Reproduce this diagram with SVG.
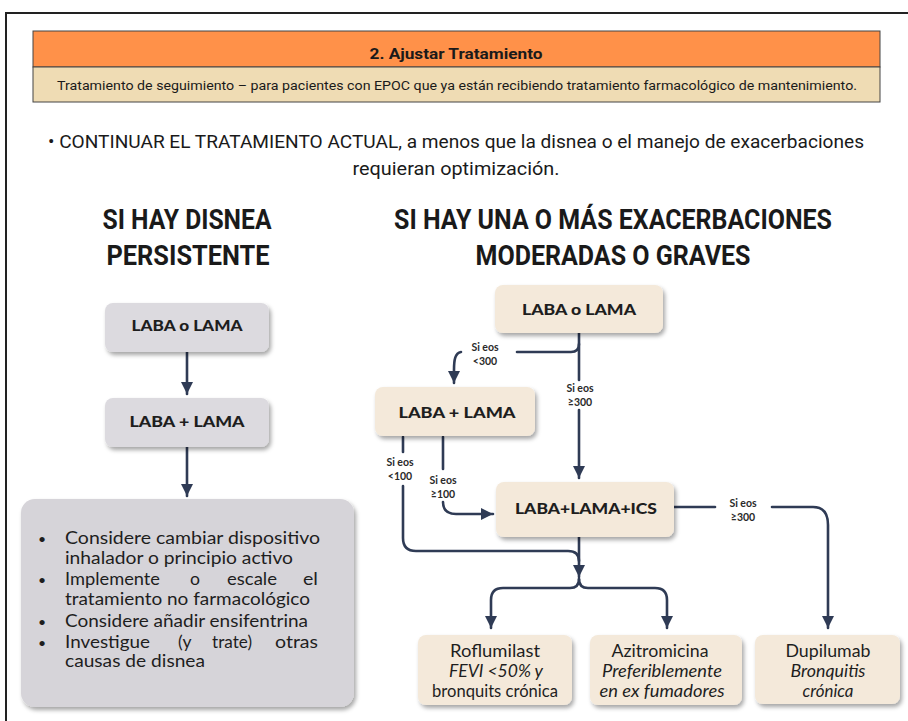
<svg xmlns="http://www.w3.org/2000/svg" width="908" height="721" viewBox="0 0 908 721">
<defs>
<filter id="sh" x="-10%" y="-10%" width="125%" height="130%">
<feDropShadow dx="2" dy="3" stdDeviation="2.2" flood-color="#000" flood-opacity="0.35"/>
</filter>
<marker id="ah" markerUnits="userSpaceOnUse" markerWidth="14" markerHeight="12" refX="12" refY="6" orient="auto">
<path d="M0,0 L12,6 L0,12 Z" fill="#2f3b55"/>
</marker>
</defs>
<style>
.cond{font-family:Roboto,"Liberation Sans",sans-serif;fill:#1a1a1a}
.hd{font-family:Roboto,"Liberation Sans",sans-serif;font-weight:bold;font-size:27px;fill:#1a1a1a;text-anchor:middle}
.bx{font-family:Lato,"Noto Sans",sans-serif;font-weight:900;font-size:15px;fill:#1e1e1e;text-anchor:middle}
.bt{font-family:Lato,"Noto Sans",sans-serif;font-size:17px;fill:#1e1e1e;text-anchor:middle}
.it{font-style:italic}
.li{font-family:Lato,"Noto Sans",sans-serif;font-size:17.5px;fill:#1e1e1e}
.lb{font-family:Lato,"Noto Sans",sans-serif;font-weight:bold;font-size:10.5px;fill:#2a2a2a;text-anchor:middle}
.grey{fill:#dcdadf}
.beige{fill:#f4e9da}
.cn{fill:none;stroke:#2f3b55;stroke-width:2.6;stroke-linecap:round}
</style>
<rect width="908" height="721" fill="#fff"/>
<path d="M6,721 V13 H908" fill="none" stroke="#222" stroke-width="2"/>

<g id="header">
<rect x="33" y="31" width="847" height="36" fill="#ff9149" stroke="#444" stroke-width="1"/>
<rect x="33" y="67" width="847" height="35" fill="#efdcb4" stroke="#444" stroke-width="1"/>
<text class="cond" x="456" y="59" font-size="14" font-weight="bold" text-anchor="middle" textLength="173" lengthAdjust="spacingAndGlyphs">2. Ajustar Tratamiento</text>
<text class="cond" x="457" y="90" font-size="12.5" text-anchor="middle" textLength="800" lengthAdjust="spacingAndGlyphs">Tratamiento de seguimiento – para pacientes con EPOC que ya están recibiendo tratamiento farmacológico de mantenimiento.</text>
</g>

<g id="intro">
<text class="cond" x="456" y="148" font-size="17.5" text-anchor="middle" textLength="816" lengthAdjust="spacingAndGlyphs">• CONTINUAR EL TRATAMIENTO ACTUAL, a menos que la disnea o el manejo de exacerbaciones</text>
<text class="cond" x="456" y="175" font-size="17.5" text-anchor="middle" textLength="207" lengthAdjust="spacingAndGlyphs">requieran optimización.</text>
</g>

<g id="headings">
<text class="hd" x="187" y="229" textLength="169" lengthAdjust="spacingAndGlyphs">SI HAY DISNEA</text>
<text class="hd" x="188" y="265" textLength="163" lengthAdjust="spacingAndGlyphs">PERSISTENTE</text>
<text class="hd" x="613" y="229" textLength="438" lengthAdjust="spacingAndGlyphs">SI HAY UNA O MÁS EXACERBACIONES</text>
<text class="hd" x="613" y="265" textLength="275" lengthAdjust="spacingAndGlyphs">MODERADAS O GRAVES</text>
</g>

<g id="connectors">
<path class="cn" d="M187,352 V394" marker-end="url(#ah)"/>
<path class="cn" d="M187,447 V496" marker-end="url(#ah)"/>
<path class="cn" d="M579,333 V380"/>
<path class="cn" d="M579,410 V478" marker-end="url(#ah)"/>
<path class="cn" d="M517,352 H571 Q579,352 579,344"/>
<path class="cn" d="M461,352 C455,353 454,360 454,370 V383" marker-end="url(#ah)"/>
<path class="cn" d="M403,437 V452"/>
<path class="cn" d="M403,486 V538 Q403,551 416,551 H568 Q579,551 579,561"/>
<path class="cn" d="M443,437 V469"/>
<path class="cn" d="M443,502 Q443,514 456,514 H493" marker-end="url(#ah)"/>
<path class="cn" d="M579,537 V577" marker-end="url(#ah)"/>
<path class="cn" d="M579,579 Q579,588 570,588 H503 Q491,588 491,600 V628" marker-end="url(#ah)"/>
<path class="cn" d="M579,579 Q579,588 588,588 H655 Q667,588 667,600 V628" marker-end="url(#ah)"/>
<path class="cn" d="M674,507 H715"/>
<path class="cn" d="M772,507 H813 Q828,507 828,525 V628" marker-end="url(#ah)"/>
<text class="lb" x="485" y="351">Si eos</text>
<text class="lb" x="485" y="365">&lt;300</text>
<text class="lb" x="580" y="392">Si eos</text>
<text class="lb" x="580" y="406">≥300</text>
<text class="lb" x="400" y="466">Si eos</text>
<text class="lb" x="400" y="480">&lt;100</text>
<text class="lb" x="443" y="484">Si eos</text>
<text class="lb" x="443" y="498">≥100</text>
<text class="lb" x="743" y="507">Si eos</text>
<text class="lb" x="743" y="521">≥300</text>
</g>

<g id="l-laba-o-lama">
<rect class="grey" x="105" y="303" width="164" height="49" rx="8" filter="url(#sh)"/>
<text class="bx" x="187" y="331" textLength="111" lengthAdjust="spacingAndGlyphs">LABA o LAMA</text>
</g>
<g id="l-laba-lama">
<rect class="grey" x="105" y="398" width="164" height="49" rx="8" filter="url(#sh)"/>
<text class="bx" x="187" y="427" textLength="115" lengthAdjust="spacingAndGlyphs">LABA + LAMA</text>
</g>
<g id="l-opciones">
<rect x="21" y="499" width="333" height="208" rx="14" fill="#d6d4d9" filter="url(#sh)"/>
<g class="li">
<text x="38" y="544" font-size="14">•</text>
<text x="65" y="544" textLength="255" lengthAdjust="spacingAndGlyphs">Considere cambiar dispositivo</text>
<text x="65" y="564" textLength="228" lengthAdjust="spacingAndGlyphs">inhalador o principio activo</text>
<text x="38" y="585" font-size="14">•</text>
<text x="65" y="585" textLength="95" lengthAdjust="spacingAndGlyphs">Implemente</text>
<text x="190" y="585" textLength="10" lengthAdjust="spacingAndGlyphs">o</text>
<text x="227" y="585" textLength="50" lengthAdjust="spacingAndGlyphs">escale</text>
<text x="303" y="585" textLength="15" lengthAdjust="spacingAndGlyphs">el</text>
<text x="65" y="605" textLength="245" lengthAdjust="spacingAndGlyphs">tratamiento no farmacológico</text>
<text x="38" y="627" font-size="14">•</text>
<text x="65" y="627" textLength="243" lengthAdjust="spacingAndGlyphs">Considere añadir ensifentrina</text>
<text x="38" y="648" font-size="14">•</text>
<text x="65" y="648" textLength="85" lengthAdjust="spacingAndGlyphs">Investigue</text>
<text x="178" y="648">(y</text>
<text x="212" y="648" textLength="40" lengthAdjust="spacingAndGlyphs">trate)</text>
<text x="275" y="648" textLength="43" lengthAdjust="spacingAndGlyphs">otras</text>
<text x="65" y="667" textLength="140" lengthAdjust="spacingAndGlyphs">causas de disnea</text>
</g>
</g>

<g id="r-laba-o-lama">
<rect class="beige" x="495" y="285" width="168" height="48" rx="8" filter="url(#sh)"/>
<text class="bx" x="579" y="315" textLength="114" lengthAdjust="spacingAndGlyphs">LABA o LAMA</text>
</g>
<g id="r-laba-lama">
<rect class="beige" x="375" y="387" width="160" height="49" rx="8" filter="url(#sh)"/>
<text class="bx" x="457" y="418" textLength="117" lengthAdjust="spacingAndGlyphs">LABA + LAMA</text>
</g>
<g id="r-laba-lama-ics">
<rect class="beige" x="496" y="482" width="178" height="55" rx="8" filter="url(#sh)"/>
<text class="bx" x="586" y="514" textLength="142" lengthAdjust="spacingAndGlyphs">LABA+LAMA+ICS</text>
</g>
<g id="roflumilast">
<rect class="beige" x="418" y="635" width="154" height="70" rx="8" filter="url(#sh)"/>
<text class="bt" x="495" y="657" textLength="90" lengthAdjust="spacingAndGlyphs">Roflumilast</text>
<text class="bt it" x="496" y="677" textLength="94" lengthAdjust="spacingAndGlyphs">FEVI &lt;50% y</text>
<text class="bt" x="495" y="697" textLength="126" lengthAdjust="spacingAndGlyphs">bronquits crónica</text>
</g>
<g id="azitromicina">
<rect class="beige" x="590" y="635" width="152" height="70" rx="8" filter="url(#sh)"/>
<text class="bt" x="660" y="657" textLength="97" lengthAdjust="spacingAndGlyphs">Azitromicina</text>
<text class="bt it" x="662" y="677" textLength="120" lengthAdjust="spacingAndGlyphs">Preferiblemente</text>
<text class="bt it" x="662" y="697" textLength="125" lengthAdjust="spacingAndGlyphs">en ex fumadores</text>
</g>
<g id="dupilumab">
<rect class="beige" x="755" y="635" width="145" height="69" rx="8" filter="url(#sh)"/>
<text class="bt" x="828" y="657" textLength="85" lengthAdjust="spacingAndGlyphs">Dupilumab</text>
<text class="bt it" x="828" y="677" textLength="75" lengthAdjust="spacingAndGlyphs">Bronquitis</text>
<text class="bt it" x="828" y="697" textLength="51" lengthAdjust="spacingAndGlyphs">crónica</text>
</g>
</svg>
